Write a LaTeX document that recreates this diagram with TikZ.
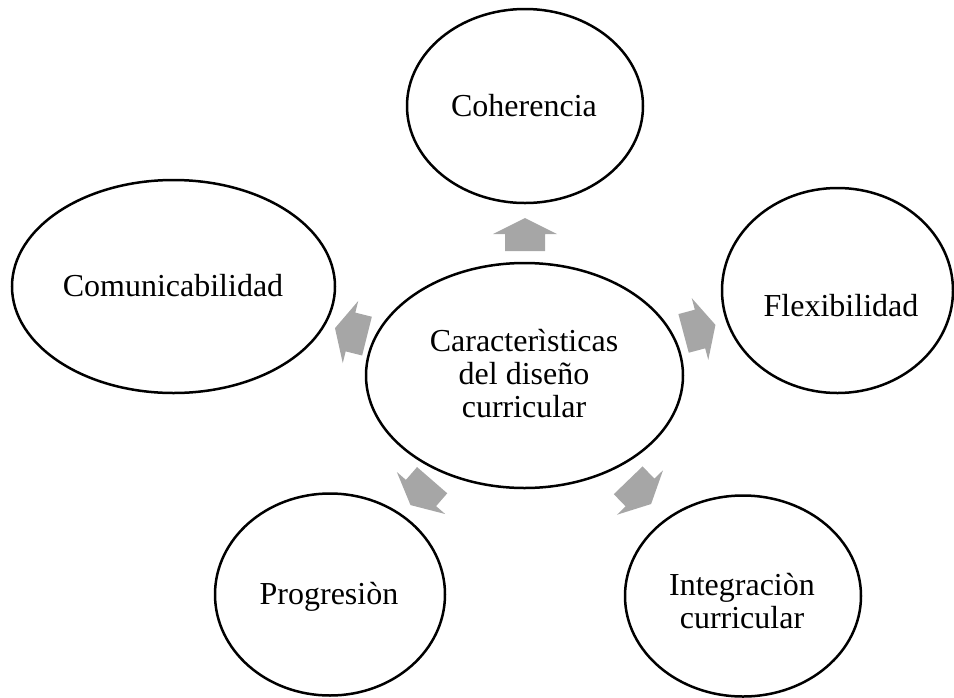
\documentclass[tikz,border=0pt]{standalone}
\usepackage{fontspec}
\setmainfont{Liberation Serif}
\usetikzlibrary{shapes.geometric}
\definecolor{arrowgray}{HTML}{A6A6A6}
\tikzset{
  bubble/.style={draw=black, line width=2.5pt, ellipse, inner sep=0pt},
  txt/.style={font=\fontsize{32}{33}\selectfont, align=center, inner sep=0pt},
  blockarrow/.pic={\fill[arrowgray] (16,0) -- (0,32) -- (0,20) -- (-17,20) -- (-17,-20) -- (0,-20) -- (0,-32) -- cycle;}
}
\begin{document}
\begin{tikzpicture}[x=1pt,y=-1pt]
\useasboundingbox (0,0) rectangle (954,697);
% ellipses
\node[bubble, minimum width=317pt, minimum height=225pt] (center) at (524.5,375.5) {};
\node[bubble, minimum width=236pt, minimum height=194pt] (coh) at (525,106) {};
\node[bubble, minimum width=231pt, minimum height=205pt] (flex) at (837.5,290.5) {};
\node[bubble, minimum width=323pt, minimum height=213pt] (com) at (173.5,286.5) {};
\node[bubble, minimum width=230pt, minimum height=202pt] (prog) at (330,594.5) {};
\node[bubble, minimum width=236pt, minimum height=201pt] (integ) at (743,596) {};
% texts
\node[txt] (tcenter) at (524,374) {Caracterìsticas\\del diseño\\curricular};
\node[txt, anchor=base] (tcoh) at (524,116) {Coherencia};
\node[txt, anchor=base] (tflex) at (841,316) {Flexibilidad};
\node[txt, anchor=base] (tcom) at (173,296) {Comunicabilidad};
\node[txt, anchor=base] (tprog) at (329,604) {Progresiòn};
\node[txt] (tinteg) at (742,601.5) {Integraciòn\\curricular};
% arrows
\pic[rotate=90] at (525,234) {blockarrow};
\pic[rotate=15] at (700,329) {blockarrow};
\pic[rotate=-46] at (640,492.5) {blockarrow};
\pic[rotate=-131] at (421,493) {blockarrow};
\pic[rotate=166] at (350.5,332) {blockarrow};
\end{tikzpicture}
\end{document}
